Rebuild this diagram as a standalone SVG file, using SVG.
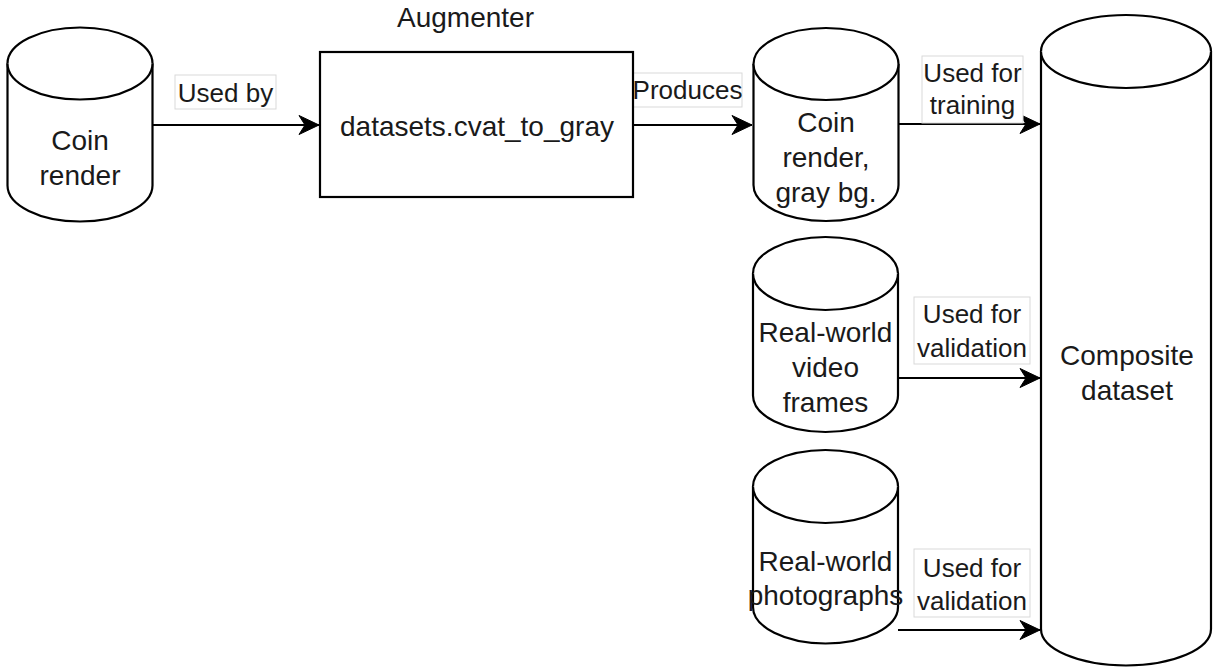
<svg xmlns="http://www.w3.org/2000/svg" width="1214" height="667" viewBox="0 0 1214 667">
<style>
.shape{fill:#fff;stroke:#000;stroke-width:2.2}
.edge{fill:none;stroke:#000;stroke-width:2.2}
.lblbg{fill:#fff;stroke:#d9d9d9;stroke-width:1}
text{font-family:"Liberation Sans",Arial,Helvetica,sans-serif;fill:#1a1a1a;text-anchor:middle}
.nt{font-size:28px}
.lt{font-size:26px}
</style>
<defs>
<marker id="arr" markerUnits="userSpaceOnUse" markerWidth="24" markerHeight="24" viewBox="-22 -12 24 24" refX="0" refY="0" orient="auto">
<path d="M0,0 L-20,-9.5 L-14,0 L-20,9.5 Z" fill="#000" stroke="#000" stroke-width="1"/>
</marker>
</defs>
<rect width="1214" height="667" fill="#fff"/>
<g id="connectors">
<path class="edge" d="M153,125 L319,125" marker-end="url(#arr)"/>
<path class="edge" d="M633,125 L752,125" marker-end="url(#arr)"/>
<path class="edge" d="M898,124 L1040,124" marker-end="url(#arr)"/>
<path class="edge" d="M898,378 L1040,378" marker-end="url(#arr)"/>
<path class="edge" d="M898,630 L1040,630" marker-end="url(#arr)"/>
<g id="label-usedby"><rect class="lblbg" x="175" y="75" width="101" height="34"/><text class="lt" x="225.5" y="102">Used by</text></g>
<g id="label-produces"><rect class="lblbg" x="633" y="73" width="109" height="34"/><text class="lt" x="687.5" y="99">Produces</text></g>
<g id="label-training"><rect class="lblbg" x="922" y="56" width="101" height="67"/><text class="lt" x="972.5" y="82">Used for</text><text class="lt" x="972.5" y="114">training</text></g>
<g id="label-val1"><rect class="lblbg" x="914" y="297" width="116" height="67"/><text class="lt" x="972" y="323">Used for</text><text class="lt" x="972" y="357">validation</text></g>
<g id="label-val2"><rect class="lblbg" x="914" y="549" width="116" height="68"/><text class="lt" x="972" y="577">Used for</text><text class="lt" x="972" y="610">validation</text></g>
</g>
<g id="coin-render">
<path class="shape" d="M7.5,63.5 A72.5,36 0 0 1 152.5,63.5 L152.5,185.5 A72.5,36 0 0 1 7.5,185.5 Z"/>
<path class="shape" d="M7.5,63.5 A72.5,36 0 0 0 152.5,63.5" fill="none"/>
<text class="nt" x="80" y="150">Coin</text>
<text class="nt" x="80" y="185">render</text>
</g>
<g id="augmenter">
<rect class="shape" x="320" y="52" width="313" height="145"/>
<text class="nt" x="465.5" y="27">Augmenter</text>
<text class="nt" x="477" y="136">datasets.cvat_to_gray</text>
</g>
<g id="coin-render-gray">
<path class="shape" d="M753.5,64 A72.5,36 0 0 1 898.5,64 L898.5,185 A72.5,36 0 0 1 753.5,185 Z"/>
<path class="shape" d="M753.5,64 A72.5,36 0 0 0 898.5,64" fill="none"/>
<text class="nt" x="826" y="132">Coin</text>
<text class="nt" x="826" y="167">render,</text>
<text class="nt" x="826" y="202">gray bg.</text>
</g>
<g id="video-frames">
<path class="shape" d="M753,273.5 A72.5,36.5 0 0 1 898,273.5 L898,395.5 A72.5,36.5 0 0 1 753,395.5 Z"/>
<path class="shape" d="M753,273.5 A72.5,36.5 0 0 0 898,273.5" fill="none"/>
<text class="nt" x="825.5" y="342">Real-world</text>
<text class="nt" x="825.5" y="377">video</text>
<text class="nt" x="825.5" y="412">frames</text>
</g>
<g id="photographs">
<path class="shape" d="M753,486.5 A72.5,36.5 0 0 1 898,486.5 L898,607 A72.5,36.5 0 0 1 753,607 Z"/>
<path class="shape" d="M753,486.5 A72.5,36.5 0 0 0 898,486.5" fill="none"/>
<text class="nt" x="825.5" y="571">Real-world</text>
<text class="nt" x="825.5" y="605">photographs</text>
</g>
<g id="composite">
<path class="shape" d="M1041,51.5 A85,36.5 0 0 1 1211,51.5 L1211,629 A85,36.5 0 0 1 1041,629 Z"/>
<path class="shape" d="M1041,51.5 A85,36.5 0 0 0 1211,51.5" fill="none"/>
<text class="nt" x="1127" y="365">Composite</text>
<text class="nt" x="1127" y="400">dataset</text>
</g>
</svg>
